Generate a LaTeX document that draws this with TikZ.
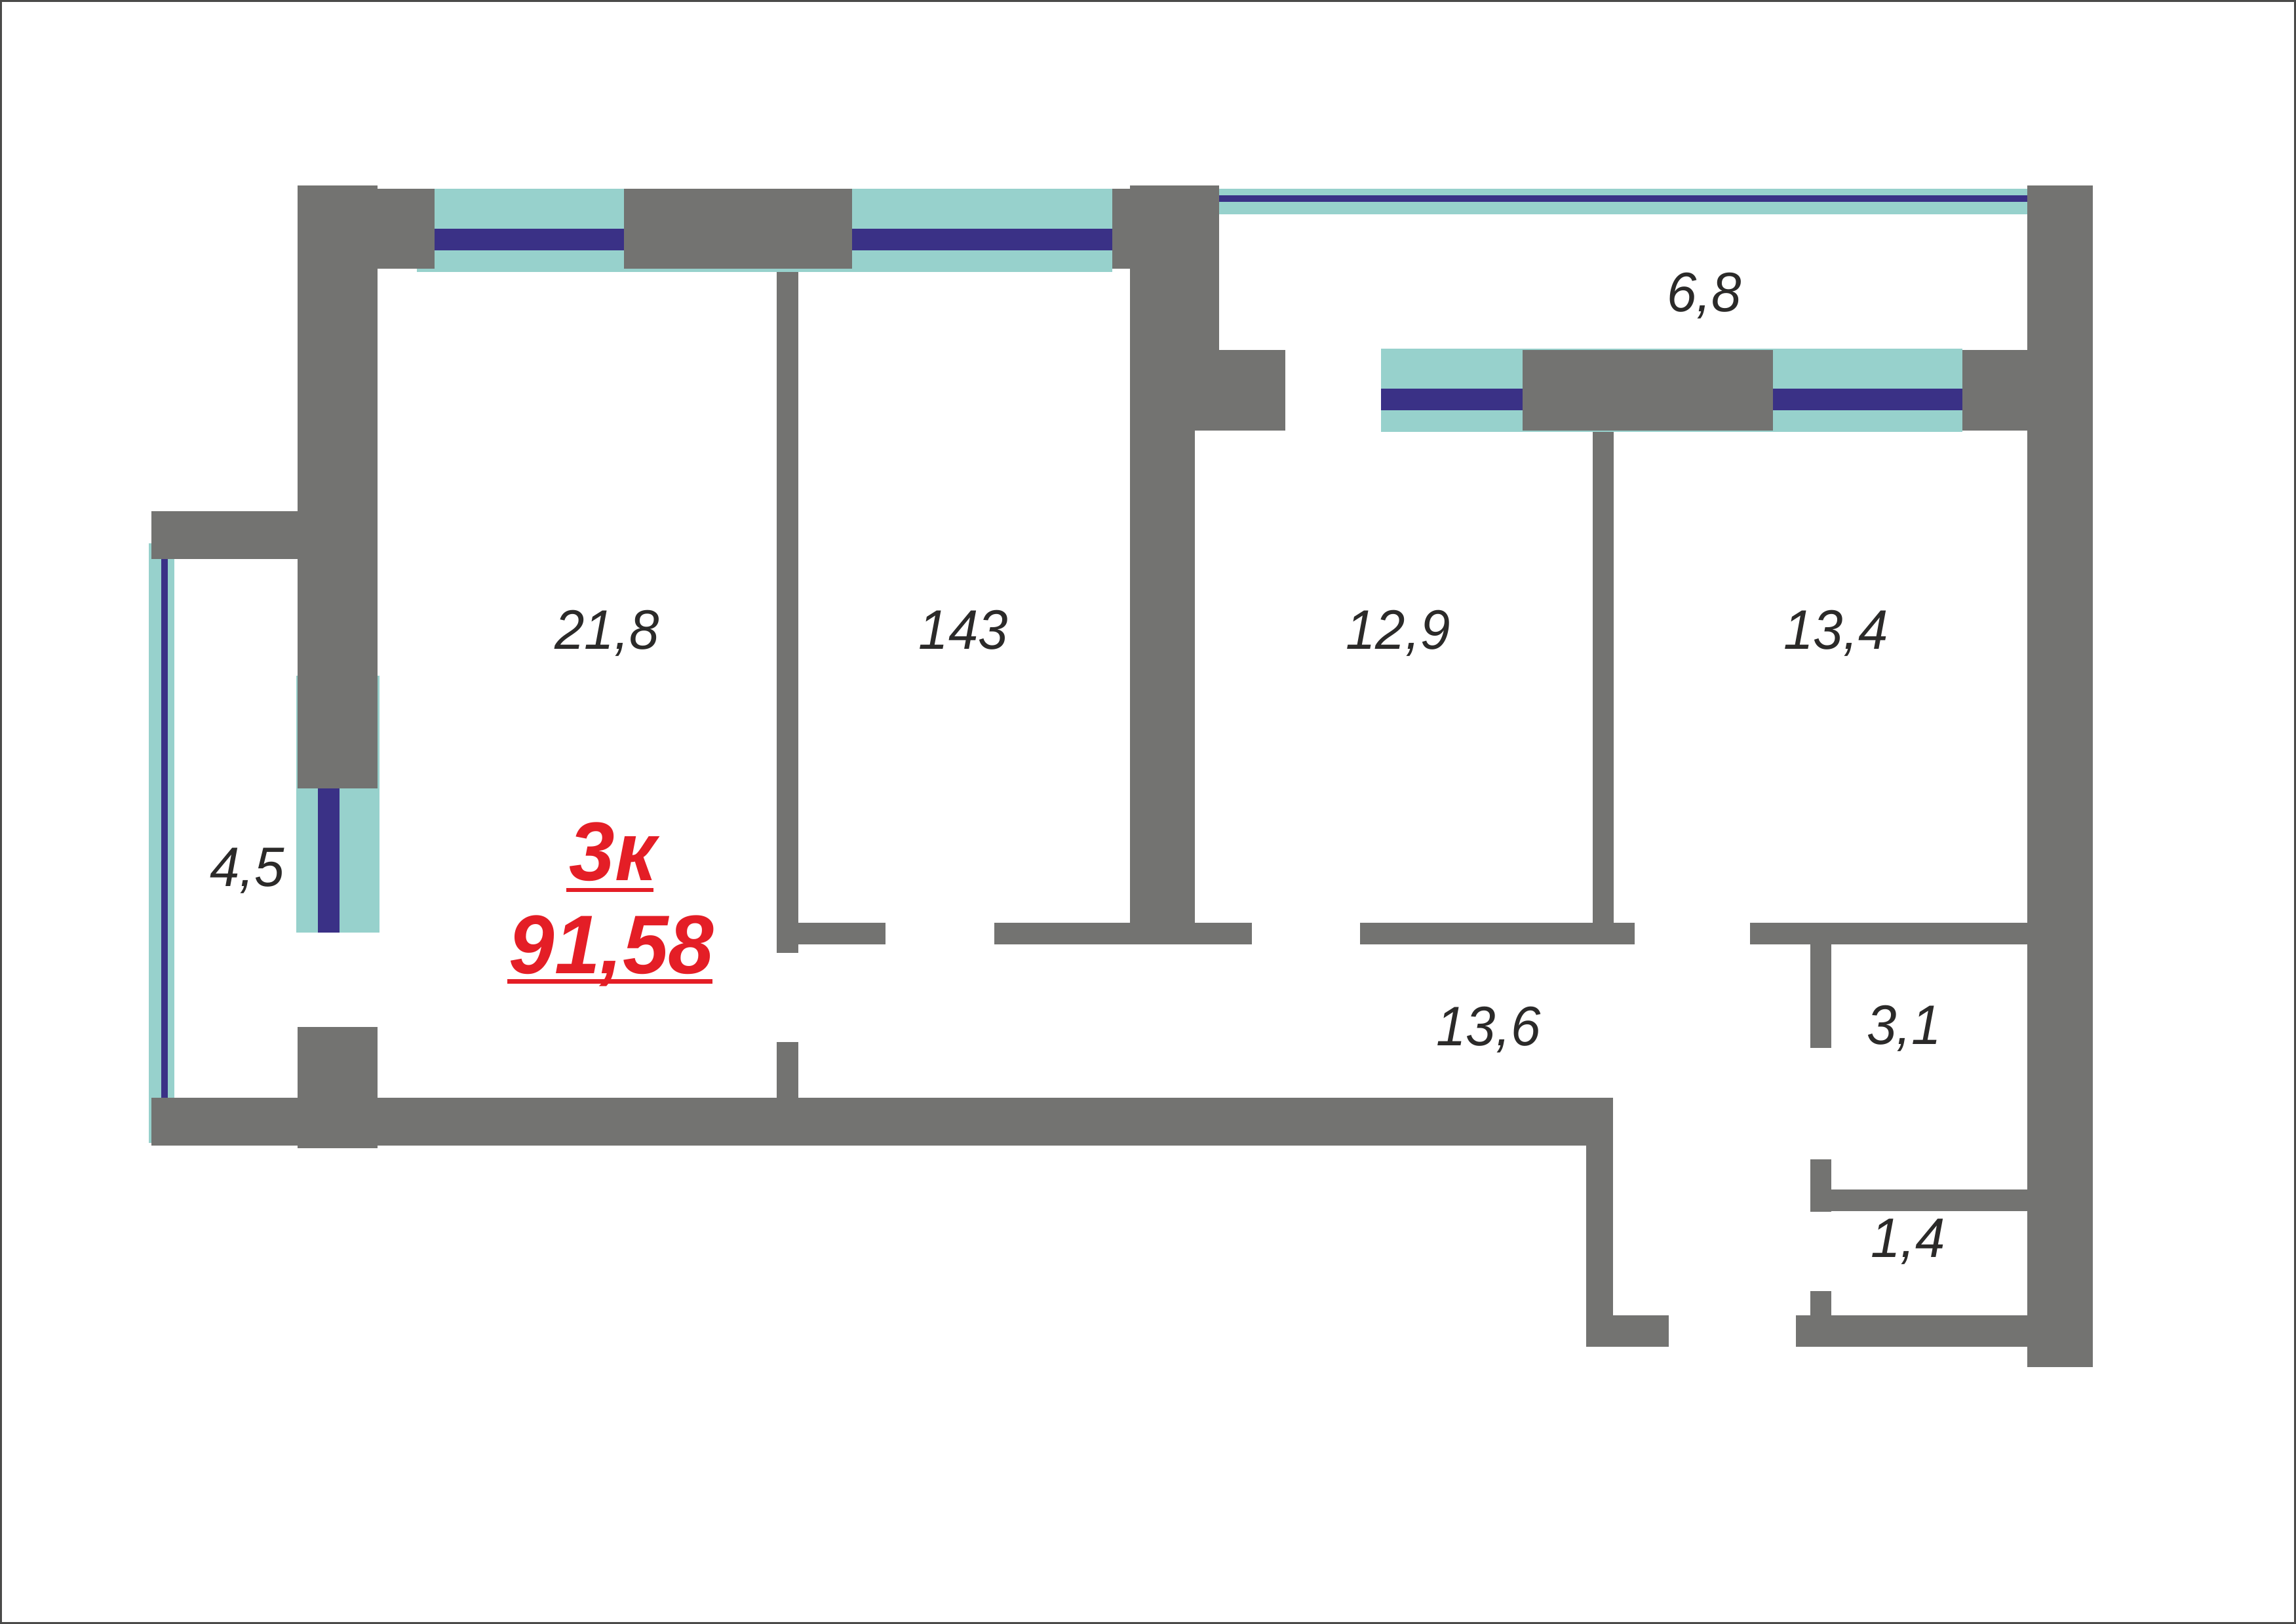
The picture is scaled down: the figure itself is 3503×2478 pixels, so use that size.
\documentclass[tikz,border=0pt]{standalone}
\usepackage{fontspec}
\setmainfont[FakeStretch=0.96]{Liberation Sans}
\newfontfamily\totalfont[FakeStretch=0.985]{Liberation Sans}
\definecolor{wallc}{HTML}{737371}
\definecolor{glassc}{HTML}{97D1CC}
\definecolor{navyc}{HTML}{3A3186}
\definecolor{redc}{HTML}{E41E26}
\definecolor{inkc}{HTML}{2B2A29}
\definecolor{framec}{HTML}{4A4A49}
\tikzset{
  wall/.style={fill=wallc},
  glass/.style={fill=glassc},
  pane/.style={fill=navyc},
  area/.style={text=inkc,font=\itshape\fontsize{85}{85}\selectfont,anchor=base,inner sep=0pt},
  total/.style={text=redc,font=\totalfont\bfseries\itshape\fontsize{127}{127}\selectfont,anchor=base,inner sep=0pt},
  rule/.style={fill=redc}
}
\begin{document}
\begin{tikzpicture}[x=1pt,y=-1pt]
\useasboundingbox (0,0) rectangle (3503,2478);
\draw[line width=3pt,draw=framec] (1.5,1.5) rectangle (3501.5,2476.5);
% glazing
\fill[glass] (636,288) rectangle (1697,415);
\fill[pane] (663,349) rectangle (1697,382);
\fill[glass] (1860,288) rectangle (3095,327);
\fill[pane] (1860,298) rectangle (3095,308);
\fill[glass] (2107,532) rectangle (2994,659);
\fill[pane] (2107,593) rectangle (2994,626);
\fill[glass] (227,829) rectangle (266,1744);
\fill[pane] (246,829) rectangle (256,1680);
\fill[glass] (452,1031) rectangle (579,1423);
\fill[pane] (485,1203) rectangle (518,1423);
% upper left walls
\fill[wall] (454,283) rectangle (576,1203);
\fill[wall] (576,288) rectangle (663,410);
\fill[wall] (952,288) rectangle (1300,410);
\fill[wall] (1697,288) rectangle (1724,410);
\fill[wall] (231,780) rectangle (454,853);
% spine and stubs
\fill[wall] (1724,283) rectangle (1860,534);
\fill[wall] (1724,534) rectangle (1961,657);
\fill[wall] (1724,657) rectangle (1823,1410);
\fill[wall] (2323,534) rectangle (2705,657);
\fill[wall] (2994,534) rectangle (3095,657);
\fill[wall] (3093,283) rectangle (3193,2086);
% partitions
\fill[wall] (1185,415) rectangle (1218,1454);
\fill[wall] (1185,1590) rectangle (1218,1680);
\fill[wall] (2430,659) rectangle (2462,1441);
\fill[wall] (1218,1408) rectangle (1351,1441);
\fill[wall] (1517,1408) rectangle (1910,1441);
\fill[wall] (2075,1408) rectangle (2494,1441);
\fill[wall] (2670,1408) rectangle (3094,1441);
\fill[wall] (2762,1408) rectangle (2794,1599);
\fill[wall] (2762,1769) rectangle (2794,1849);
\fill[wall] (2794,1815) rectangle (3094,1848);
\fill[wall] (2762,1970) rectangle (2794,2055);
\fill[wall] (2740,2007) rectangle (3094,2055);
% lower walls
\fill[wall] (231,1675) rectangle (2461,1748);
\fill[wall] (454,1567) rectangle (576,1752);
\fill[wall] (2420,1700) rectangle (2461,2055);
\fill[wall] (2420,2007) rectangle (2546,2055);
% labels
\node[area] (r1) at (926,990) {21,8};
\node[area] (r2) at (1470,990) {143};
\node[area] (r3) at (2133,990) {12,9};
\node[area] (r4) at (2801,990) {13,4};
\node[area] (r5) at (2271,1595) {13,6};
\node[area] (r6) at (2905,1593) {3,1};
\node[area] (r7) at (2911,1918) {1,4};
\node[area] (r8) at (2600,475) {6,8};
\node[area] (r9) at (377,1352) {4,5};
\node[total] (t1) at (935,1343) {3к};
\node[total] (t2) at (933,1485) {91,58};
\fill[rule] (864,1355) rectangle (997,1361);
\fill[rule] (774,1494) rectangle (1087,1501);
\end{tikzpicture}
\end{document}
